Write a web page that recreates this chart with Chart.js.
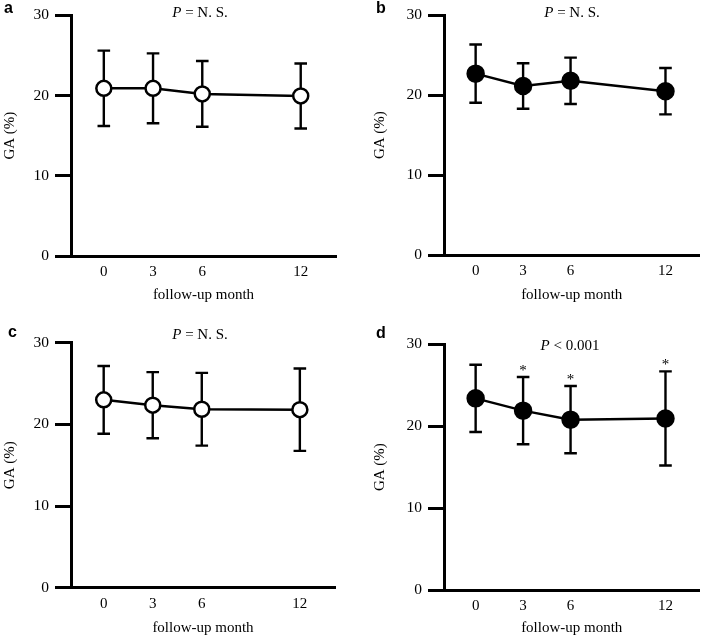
<!DOCTYPE html>
<html>
<head>
<meta charset="utf-8">
<script src="https://cdn.jsdelivr.net/npm/chart.js@4.4.1/dist/chart.umd.min.js"></script>
<style>
body { margin: 0; background: #fff; }
#wrap { position: relative; width: 710px; height: 637px; }
canvas { position: absolute; }
</style>
</head>
<body>
<div id="wrap">
  <canvas id="pa" width="355" height="318" style="left:0;top:0"></canvas>
  <canvas id="pb" width="355" height="318" style="left:355px;top:0"></canvas>
  <canvas id="pc" width="355" height="319" style="left:0;top:318px"></canvas>
  <canvas id="pd" width="355" height="319" style="left:355px;top:318px"></canvas>
</div>
<script>
// donnees
const months = [0, 3, 6, 12];
const yTicks = [0, 10, 20, 30];

const gaA = [20.9, 20.9, 20.2, 19.95];
const sdA = [4.7, 4.35, 4.1, 4.05];
const gaB = [22.7, 21.15, 21.8, 20.5];
const sdB = [3.65, 2.85, 2.9, 2.9];
const gaC = [23.0, 22.35, 21.85, 21.8];
const sdC = [4.15, 4.05, 4.45, 5.05];
const gaD = [23.4, 21.9, 20.8, 20.95];
const sdD = [4.1, 4.1, 4.1, 5.75];

const pTexts = ['= N. S.', '= N. S.', '= N. S.', '< 0.001'];
const starsD = [false, true, true, true];

const serif = '"Liberation Serif", "Times New Roman", serif';

// mise en page de chaque panneau (coordonnees locales au canvas)
const panels = [
  { id: 'pa', letter: 'a', mean: gaA, sd: sdA, filled: false, p: pTexts[0], stars: null,
    pad: { left: 0, top: 10, right: 19, bottom: 0 }, xH: 62, xTitlePad: 14, yTitlePad: 1, letterPos: [4, 13], pPos: [200, 13] },
  { id: 'pb', letter: 'b', mean: gaB, sd: sdB, filled: true, p: pTexts[1], stars: null,
    pad: { left: 18, top: 9.3, right: 2, bottom: 0 }, xH: 63, xTitlePad: 14, yTitlePad: -2, letterPos: [21, 13], pPos: [217, 13] },
  { id: 'pc', letter: 'c', mean: gaC, sd: sdC, filled: false, p: pTexts[2], stars: null,
    pad: { left: 0, top: 24.7, right: 20, bottom: 0 }, xH: 49.3, xTitlePad: 0, yTitlePad: 1, letterPos: [8, 19], pPos: [200, 17] },
  { id: 'pd', letter: 'd', mean: gaD, sd: sdD, filled: true, p: pTexts[3], stars: starsD,
    pad: { left: 18, top: 26.3, right: 2, bottom: 0 }, xH: 47, xTitlePad: 0, yTitlePad: -2, letterPos: [21, 20], pPos: [215, 28] }
];

function decor(p) { // barres d'erreur, lettres, texte P
  return {
    id: 'decor' + p.letter,
    beforeDatasetsDraw(chart) {
      const { ctx, scales: { x, y } } = chart;
      ctx.save();
      ctx.strokeStyle = '#000';
      ctx.lineWidth = 2.4;
      ctx.fillStyle = '#000';
      ctx.font = '15px ' + serif;
      ctx.textAlign = 'center';
      ctx.textBaseline = 'middle';
      months.forEach((m, i) => {
        const px = x.getPixelForValue(m);
        const top = y.getPixelForValue(p.mean[i] + p.sd[i]);
        const bot = y.getPixelForValue(p.mean[i] - p.sd[i]);
        ctx.beginPath();
        ctx.moveTo(px, top); ctx.lineTo(px, bot);
        ctx.moveTo(px - 6.3, top); ctx.lineTo(px + 6.3, top);
        ctx.moveTo(px - 6.3, bot); ctx.lineTo(px + 6.3, bot);
        ctx.stroke();
        if (p.stars && p.stars[i]) ctx.fillText('*', px, top - 6);
      });
      ctx.restore();
    },
    afterDraw(chart) {
      const ctx = chart.ctx;
      ctx.save();
      ctx.fillStyle = '#000';
      ctx.textBaseline = 'alphabetic';
      ctx.textAlign = 'left';
      ctx.font = 'bold 16px "Liberation Sans", Arial, sans-serif';
      ctx.fillText(p.letter, p.letterPos[0], p.letterPos[1]);
      // P en italique puis le reste
      ctx.textBaseline = 'middle';
      ctx.font = 'italic 15px ' + serif;
      const wP = ctx.measureText('P').width;
      ctx.font = '15px ' + serif;
      const rest = ' ' + p.p;
      const wR = ctx.measureText(rest).width;
      const x0 = p.pPos[0] - (wP + wR) / 2;
      ctx.font = 'italic 15px ' + serif;
      ctx.fillText('P', x0, p.pPos[1]);
      ctx.font = '15px ' + serif;
      ctx.fillText(rest, x0 + wP, p.pPos[1]);
      ctx.restore();
    }
  };
}

panels.forEach(p => {
  new Chart(document.getElementById(p.id), {
    type: 'line',
    data: {
      datasets: [{
        data: months.map((m, i) => ({ x: m, y: p.mean[i] })),
        borderColor: '#000',
        borderWidth: 2.5,
        pointRadius: p.filled ? 8 : 7.5,
        pointBorderWidth: 2.5,
        pointBorderColor: '#000',
        pointBackgroundColor: p.filled ? '#000' : '#fff',
        tension: 0,
        clip: false
      }]
    },
    options: {
      responsive: false,
      animation: false,
      layout: { padding: p.pad },
      plugins: { legend: { display: false }, tooltip: { enabled: false } },
      scales: {
        x: {
          type: 'linear',
          min: -2,
          max: 14.15,
          afterBuildTicks: s => { s.ticks = months.map(v => ({ value: v })); },
          afterFit: s => { s.height = p.xH; },
          ticks: { color: '#000', padding: 7, font: { family: serif, size: 15 } },
          grid: { drawOnChartArea: false, drawTicks: false, color: '#000' },
          border: { color: '#000', width: 3 },
          title: {
            display: true, text: 'follow-up month', color: '#000',
            font: { family: serif, size: 15 }, padding: { top: 0, bottom: p.xTitlePad }
          }
        },
        y: {
          min: 0,
          max: 30,
          afterBuildTicks: s => { s.ticks = yTicks.map(v => ({ value: v })); },
          afterFit: s => { s.width = 71; },
          ticks: { color: '#000', padding: 6, font: { family: serif, size: 15.5 } },
          grid: { drawOnChartArea: false, drawTicks: true, tickLength: 16, lineWidth: 3, color: '#000' },
          border: { color: '#000', width: 3 },
          title: {
            display: true, text: 'GA (%)', color: '#000',
            font: { family: serif, size: 15 }, padding: { top: p.yTitlePad, bottom: 0 }
          }
        }
      }
    },
    plugins: [decor(p)]
  });
});
</script>
</body>
</html>
